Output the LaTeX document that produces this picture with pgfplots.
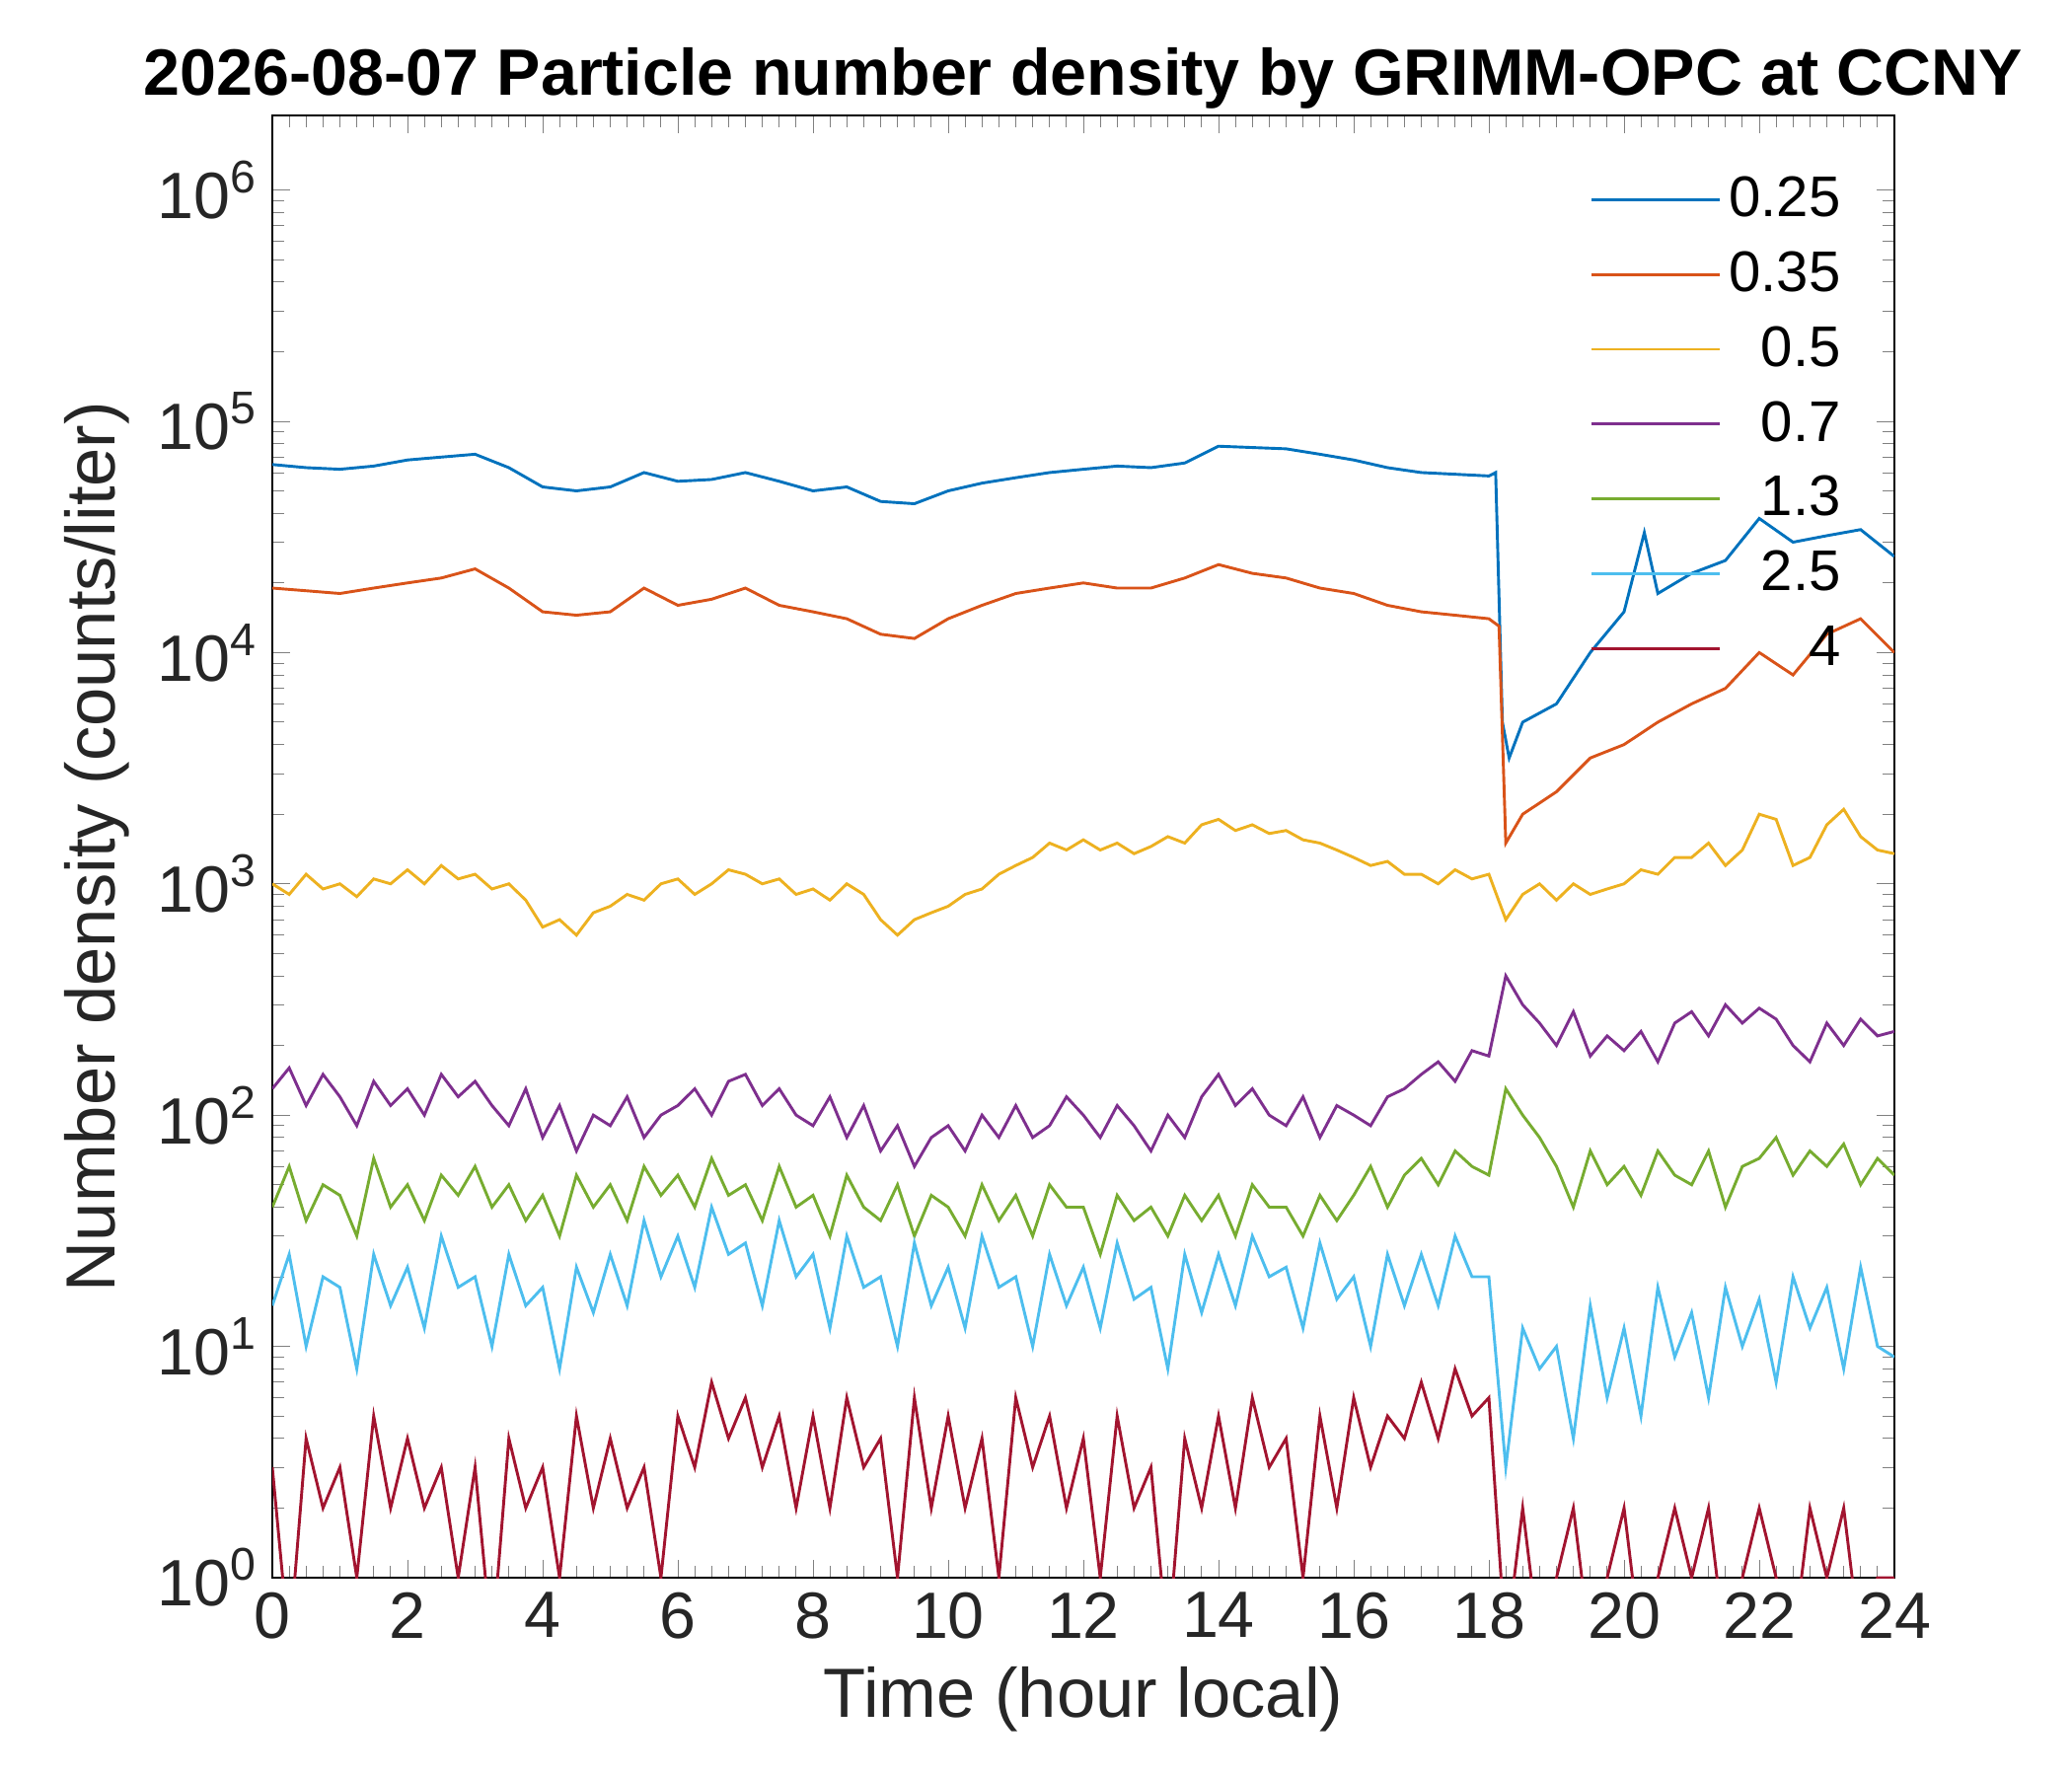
\documentclass[border=0pt]{standalone}
\usepackage{pgfplots}
\pgfplotsset{compat=1.18}
\usepackage{fontspec}
\setmainfont{Liberation Sans}
\definecolor{c1}{rgb}{0,0.447,0.741}
\definecolor{c2}{rgb}{0.85,0.325,0.098}
\definecolor{c3}{rgb}{0.929,0.694,0.125}
\definecolor{c4}{rgb}{0.494,0.184,0.556}
\definecolor{c5}{rgb}{0.466,0.674,0.188}
\definecolor{c6}{rgb}{0.301,0.745,0.933}
\definecolor{c7}{rgb}{0.635,0.078,0.184}
\begin{document}
\begin{tikzpicture}
\useasboundingbox (-0.92in,-0.67in) rectangle (6.08in,5.33in);
\begin{axis}[
 scale only axis, width=5.48in, height=4.94in,
 xmin=0, xmax=24, ymode=log, ymin=1, ymax=2.1e6,
 xtick={0,2,...,24}, minor x tick num=7,
 /pgf/number format/assume math mode=true,
 ytick={1,10,100,1000,10000,100000,1000000},
 yticklabels={10\textsuperscript{0},10\textsuperscript{1},10\textsuperscript{2},10\textsuperscript{3},10\textsuperscript{4},10\textsuperscript{5},10\textsuperscript{6}},
 tick pos=both, tick align=inside,
 font=\fontsize{15}{18}\selectfont,
 tick label style={font=\fontsize{16}{19}\selectfont, color=black!85},
 xlabel={Time (hour local)}, ylabel={Number density (counts/liter)},
 label style={font=\fontsize{17}{20}\selectfont, color=black!85},
 title={\bfseries 2026-08-07 Particle number density by GRIMM-OPC at CCNY},
 title style={font=\fontsize{16}{19}\selectfont\bfseries, yshift=-8pt},
 legend style={draw=none, fill=none, at={(0.98,0.97)}, anchor=north east, font=\fontsize{14}{17}\selectfont, row sep=3pt},
 legend cell align=right,
 every axis plot/.append style={line width=0.7pt},
 legend image code/.code={\draw[#1] (0cm,0cm) -- (1.1cm,0cm);},
 unbounded coords=discard, clip=true,
]
\addplot[c1] coordinates {(0,65000)(0.5,63000)(1,62000)(1.5,64000)(2,68000)(2.5,70000)(3,72000)(3.5,63000)(4,52000)(4.5,50000)(5,52000)(5.5,60000)(6,55000)(6.5,56000)(7,60000)(7.5,55000)(8,50000)(8.5,52000)(9,45000)(9.5,44000)(10,50000)(10.5,54000)(11,57000)(11.5,60000)(12,62000)(12.5,64000)(13,63000)(13.5,66000)(14,78000)(14.5,77000)(15,76000)(15.5,72000)(16,68000)(16.5,63000)(17,60000)(17.5,59000)(18,58000)(18.1,60000)(18.2,5000)(18.3,3500)(18.5,5000)(19,6000)(19.5,10000)(20,15000)(20.3,33000)(20.5,18000)(21,22000)(21.5,25000)(22,38000)(22.5,30000)(23,32000)(23.5,34000)(24,26000)};
\addplot[c2] coordinates {(0,19000)(0.5,18500)(1,18000)(1.5,19000)(2,20000)(2.5,21000)(3,23000)(3.5,19000)(4,15000)(4.5,14500)(5,15000)(5.5,19000)(6,16000)(6.5,17000)(7,19000)(7.5,16000)(8,15000)(8.5,14000)(9,12000)(9.5,11500)(10,14000)(10.5,16000)(11,18000)(11.5,19000)(12,20000)(12.5,19000)(13,19000)(13.5,21000)(14,24000)(14.5,22000)(15,21000)(15.5,19000)(16,18000)(16.5,16000)(17,15000)(17.5,14500)(18,14000)(18.15,13000)(18.25,1500)(18.5,2000)(19,2500)(19.5,3500)(20,4000)(20.5,5000)(21,6000)(21.5,7000)(22,10000)(22.5,8000)(23,12000)(23.5,14000)(24,10000)};
\addplot[c3] table[x expr=\coordindex*0.25, y index=0, header=false] {
1000
900
1100
950
1000
880
1050
1000
1150
1000
1200
1050
1100
950
1000
850
650
700
600
750
800
900
850
1000
1050
900
1000
1150
1100
1000
1050
900
950
850
1000
900
700
600
700
750
800
900
950
1100
1200
1300
1500
1400
1550
1400
1500
1350
1450
1600
1500
1800
1900
1700
1800
1650
1700
1550
1500
1400
1300
1200
1250
1100
1100
1000
1150
1050
1100
700
900
1000
850
1000
900
950
1000
1150
1100
1300
1300
1500
1200
1400
2000
1900
1200
1300
1800
2100
1600
1400
1350
};
\addplot[c4] table[x expr=\coordindex*0.25, y index=0, header=false] {
130
160
110
150
120
90
140
110
130
100
150
120
140
110
90
130
80
110
70
100
90
120
80
100
110
130
100
140
150
110
130
100
90
120
80
110
70
90
60
80
90
70
100
80
110
80
90
120
100
80
110
90
70
100
80
120
150
110
130
100
90
120
80
110
100
90
120
130
150
170
140
190
180
400
300
250
200
280
180
220
190
230
170
250
280
220
300
250
290
260
200
170
250
200
260
220
230
};
\addplot[c5] table[x expr=\coordindex*0.25, y index=0, header=false] {
40
60
35
50
45
30
65
40
50
35
55
45
60
40
50
35
45
30
55
40
50
35
60
45
55
40
65
45
50
35
60
40
45
30
55
40
35
50
30
45
40
30
50
35
45
30
50
40
40
25
45
35
40
30
45
35
45
30
50
40
40
30
45
35
45
60
40
55
65
50
70
60
55
130
100
80
60
40
70
50
60
45
70
55
50
70
40
60
65
80
55
70
60
75
50
65
55
};
\addplot[c6] table[x expr=\coordindex*0.25, y index=0, header=false] {
15
25
10
20
18
8
25
15
22
12
30
18
20
10
25
15
18
8
22
14
25
15
35
20
30
18
40
25
28
15
35
20
25
12
30
18
20
10
28
15
22
12
30
18
20
10
25
15
22
12
28
16
18
8
25
14
25
15
30
20
22
12
28
16
20
10
25
15
25
15
30
20
20
3
12
8
10
4
15
6
12
5
18
9
14
6
18
10
16
7
20
12
18
8
22
10
9
};
\addplot[c7] table[x expr=\coordindex*0.25, y index=0, header=false] {
3
0.5
4
2
3
1
5
2
4
2
3
1
3
0.5
4
2
3
1
5
2
4
2
3
1
5
3
7
4
6
3
5
2
5
2
6
3
4
1
6
2
5
2
4
1
6
3
5
2
4
1
5
2
3
0.5
4
2
5
2
6
3
4
1
5
2
6
3
5
4
7
4
8
5
6
0.5
2
0.5
1
2
0.5
1
2
0.5
1
2
1
2
0.5
1
2
1
0.5
2
1
2
0.5
1
1
};
\legend{0.25,0.35,0.5,0.7,1.3,2.5,4}
\end{axis}
\end{tikzpicture}
\end{document}
